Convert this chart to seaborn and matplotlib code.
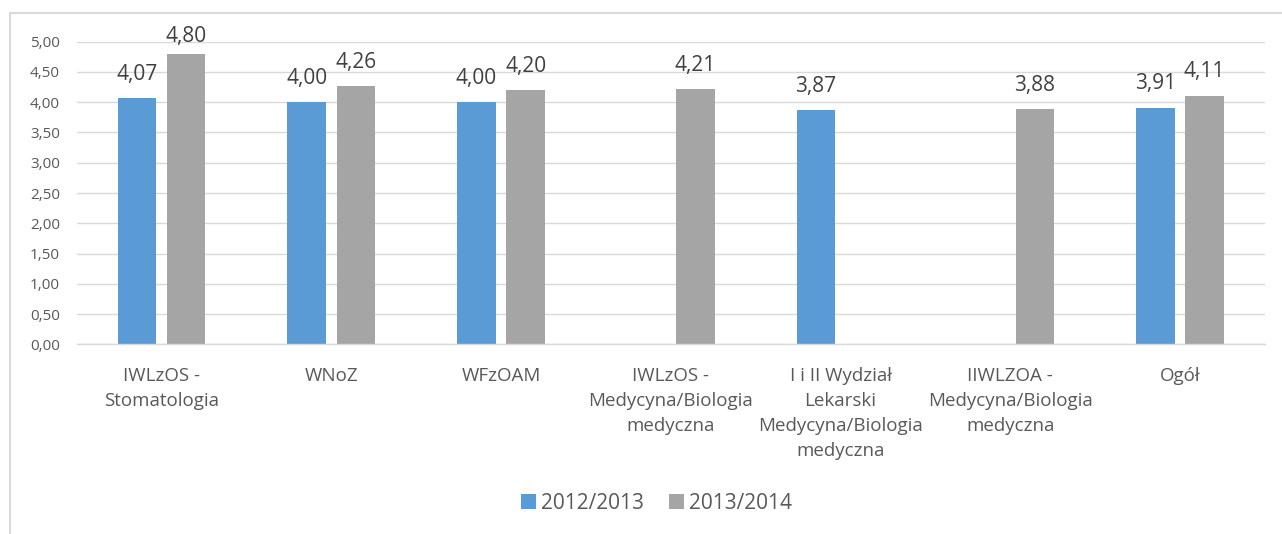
import numpy as np
import pandas as pd
import seaborn as sns
from matplotlib import pyplot as plt
from matplotlib.patches import Rectangle
from matplotlib.ticker import FuncFormatter

# values
categories = [
    "IWLzOS -\nStomatologia",
    "WNoZ",
    "WFzOAM",
    "IWLzOS -\nMedycyna/Biologia\nmedyczna",
    "I i II Wydział\nLekarski\nMedycyna/Biologia\nmedyczna",
    "IIWLZOA -\nMedycyna/Biologia\nmedyczna",
    "Ogół",
]
years = ["2012/2013", "2013/2014"]
vals_2012 = [4.07, 4.00, 4.00, np.nan, 3.87, np.nan, 3.91]
vals_2013 = [4.80, 4.26, 4.20, 4.21, np.nan, 3.88, 4.11]
colors = ["#5B9BD5", "#A5A5A5"]

sns.set_theme(style="white")
plt.rcParams['font.family'] = ['Open Sans', 'DejaVu Sans']

df = pd.DataFrame({
    "kierunek": categories * 2,
    "rok": [years[0]] * len(categories) + [years[1]] * len(categories),
    "ocena": vals_2012 + vals_2013,
})

fig = plt.figure(figsize=(12.82, 5.34), dpi=100)
ax = fig.add_axes([0.0598, 0.355, 0.9269, 0.567])

sns.barplot(data=df, x="kierunek", y="ocena", hue="rok", hue_order=years,
            order=categories, palette=colors, width=0.58, gap=0.22,
            errorbar=None, saturation=1, linewidth=0, ax=ax)

ax.set_ylim(0, 5)
ax.set_xlim(-0.5, len(categories) - 0.5)
ax.set_yticks(np.arange(0, 5.01, 0.5))
ax.yaxis.set_major_formatter(FuncFormatter(lambda v, p: f"{v:.2f}".replace(".", ",")))
ax.grid(axis="y", color="#D9D9D9", linewidth=1.0)
ax.set_axisbelow(True)
for s in ["left", "right", "top"]:
    ax.spines[s].set_visible(False)
ax.spines["bottom"].set_color("#D9D9D9")
ax.spines["bottom"].set_linewidth(1.0)
ax.set_xlabel("")
ax.set_ylabel("")
ax.tick_params(axis="y", length=0, pad=12, labelsize=11, labelcolor="#595959")
ax.tick_params(axis="x", length=0, pad=16, labelsize=13.5, labelcolor="#595959")
plt.setp(ax.get_xticklabels(), linespacing=1.5)

# data labels above bars, kept inside the plot area like Excel does
for cont in ax.containers:
    for bar in cont:
        h = bar.get_height()
        if np.isnan(h):
            continue
        ax.text(bar.get_x() + bar.get_width() / 2, min(h + 0.30, 5.0),
                f"{h:.2f}".replace(".", ","), ha="center", va="baseline",
                fontsize=15, color="#404040")

sns.move_legend(ax, "center", bbox_to_anchor=(656.5 / 1282, 0.058),
                bbox_transform=fig.transFigure, ncol=2, frameon=False,
                title=None, fontsize=15, handlelength=0.71, handleheight=0.71,
                handletextpad=0.25, columnspacing=1.2, labelcolor="#595959")

# chart frame
fig.patches.append(Rectangle((10 / 1282, -0.05), 1.05, 0.05 + 1 - 13 / 534,
                             transform=fig.transFigure, fill=False,
                             edgecolor="#D9D9D9", linewidth=1.5))

fig.savefig("out.png", dpi=100)
